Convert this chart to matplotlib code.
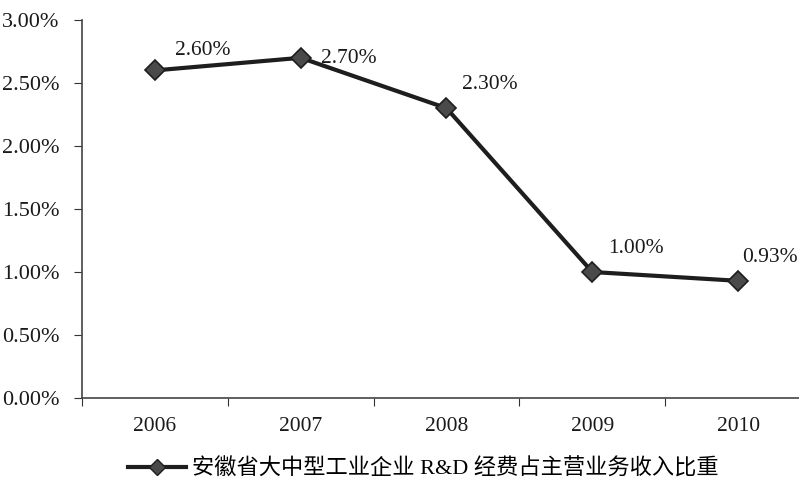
import matplotlib.pyplot as plt
from matplotlib.lines import Line2D
import numpy as np

plt.rcParams['font.family'] = ['Liberation Serif', 'Noto Sans CJK SC', 'DejaVu Sans']

# 数据
years = ['2006', '2007', '2008', '2009', '2010']
ratio = [2.60, 2.70, 2.30, 1.00, 0.93]
y_ticks = [0.0, 0.5, 1.0, 1.5, 2.0, 2.5, 3.0]
legend_label = '安徽省大中型工业企业 R&D 经费占主营业务收入比重'

# 标签偏移 (像素)
offsets = [(20, 10), (20, -10), (16, 14), (16, 14), (4, 14)]

fig = plt.figure(figsize=(7.99, 4.8), dpi=100)
ax = fig.add_axes([82/799, 82/480, 729/799, 378/480])

x = np.arange(len(years))
ax.plot(x, ratio, color='#1e1e1e', lw=3, marker='D', markersize=10,
        markerfacecolor='#4a4a4a', markeredgecolor='#1e1e1e', markeredgewidth=1.2,
        clip_on=False, zorder=3)

for i in range(len(years)):
    ax.annotate('%.2f%%' % ratio[i], (x[i], ratio[i]), xytext=offsets[i],
                textcoords='offset pixels', fontsize=15.5, ha='left', va='bottom',
                color='#1a1a1a')

ax.set_xlim(-0.5, len(years) - 0.5)
ax.set_ylim(0, 3.0)
ax.set_yticks(y_ticks)
ax.set_yticklabels(['%.2f%%' % v for v in y_ticks], fontsize=16, color='#1a1a1a')

# 刻度线在类别之间, 标签在类别中心
ax.set_xticks(np.arange(len(years) + 1) - 0.5)
ax.set_xticklabels([])
ax.set_xticks(x, minor=True)
ax.set_xticklabels(years, minor=True, fontsize=15.5, color='#1a1a1a')
ax.tick_params(axis='x', which='minor', length=0, pad=14)
ax.tick_params(axis='x', which='major', length=6, direction='out', color='#333333')
ax.tick_params(axis='y', length=6, direction='out', color='#333333', pad=10)

for s in ['top', 'right']:
    ax.spines[s].set_visible(False)
for s in ['left', 'bottom']:
    ax.spines[s].set_color('#444444')
    ax.spines[s].set_linewidth(1.2)

handle = Line2D([], [], color='#1e1e1e', lw=3, marker='D', markersize=8,
                markerfacecolor='#4a4a4a', markeredgecolor='#1e1e1e')
fig.legend([handle], [legend_label], loc='center', bbox_to_anchor=(0.53, 0.022),
           frameon=False, handlelength=2.6, handletextpad=0.3,
           prop={'family': ['Liberation Serif', 'Noto Sans CJK SC'], 'size': 16})

fig.savefig('out.png', dpi=100)
